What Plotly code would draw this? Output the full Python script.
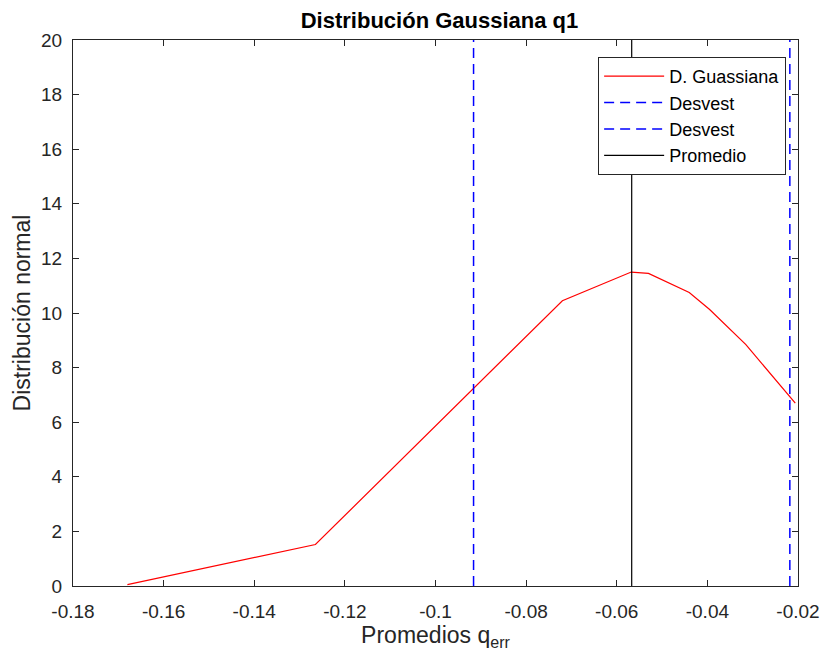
import plotly.graph_objects as go

# Data
x_curve = [-0.168, -0.1265, -0.072, -0.0568, -0.053, -0.044, -0.0395, -0.0315, -0.0206]
y_curve = [0.05, 1.52, 10.45, 11.5, 11.45, 10.75, 10.13, 8.84, 6.7]
std_low = -0.0916
std_high = -0.0218
mean_val = -0.0567
x_ticks = [-0.18, -0.16, -0.14, -0.12, -0.1, -0.08, -0.06, -0.04, -0.02]
x_ticklabels = ["-0.18", "-0.16", "-0.14", "-0.12", "-0.1", "-0.08", "-0.06", "-0.04", "-0.02"]
y_ticks = [0, 2, 4, 6, 8, 10, 12, 14, 16, 18, 20]
y_range = [0, 20]
x_range = [-0.18, -0.02]

FONT = "Liberation Sans, Arial, Helvetica, sans-serif"
AX = "#262626"
W, H = 832, 664
ML, MR, MT, MB = 73, 26, 40, 78
PW, PH = W - ML - MR, H - MT - MB

fig = go.Figure()
fig.add_trace(go.Scatter(x=x_curve, y=y_curve, mode="lines", name="D. Guassiana",
                         legendgroup="a", line=dict(color="#ff0000", width=1.2)))
fig.add_trace(go.Scatter(x=[std_low, std_low], y=y_range, mode="lines", name="Desvest",
                         legendgroup="b", line=dict(color="#0000ff", width=1.5, dash="10px,6px")))
fig.add_trace(go.Scatter(x=[std_high, std_high], y=y_range, mode="lines", name="Desvest",
                         legendgroup="c", line=dict(color="#0000ff", width=1.5, dash="10px,6px")))
fig.add_trace(go.Scatter(x=[mean_val, mean_val], y=y_range, mode="lines", name="Promedio",
                         legendgroup="d", line=dict(color="#000000", width=1.2)))

fig.update_layout(
    width=W, height=H,
    margin=dict(l=ML, r=MR, t=MT, b=MB),
    paper_bgcolor="white", plot_bgcolor="white",
    font=dict(family=FONT, size=19, color=AX),
    title=dict(text="<b>Distribución Gaussiana q1</b>", x=(ML + PW / 2) / W, xanchor="center",
               y=1 - 20 / H, yanchor="middle", font=dict(size=22, color="#000000")),
    showlegend=True,
    legend=dict(x=(794 - ML) / PW, xanchor="right", xref="paper",
                y=(H - MB - 57) / PH, yanchor="top", yref="paper",
                bgcolor="white", bordercolor=AX, borderwidth=1,
                font=dict(size=18, color="#000000"), itemwidth=60,
                tracegroupgap=0),
)
fig.update_xaxes(range=x_range, tickvals=x_ticks, ticktext=x_ticklabels,
                 showgrid=False, zeroline=False, showline=True, linecolor=AX, linewidth=1,
                 mirror="ticks", ticks="inside", ticklen=6, tickcolor=AX,
                 ticklabelstandoff=8,
                 title=dict(text="Promedios q<sub>err</sub>", font=dict(size=23), standoff=4),
                 tickfont=dict(size=19))
fig.update_yaxes(range=y_range, tickvals=y_ticks,
                 showgrid=False, zeroline=False, showline=True, linecolor=AX, linewidth=1,
                 mirror="ticks", ticks="inside", ticklen=6, tickcolor=AX,
                 ticklabelstandoff=6,
                 title=dict(text="Distribución normal", font=dict(size=23), standoff=4),
                 tickfont=dict(size=19))

fig.write_html("out.html")
